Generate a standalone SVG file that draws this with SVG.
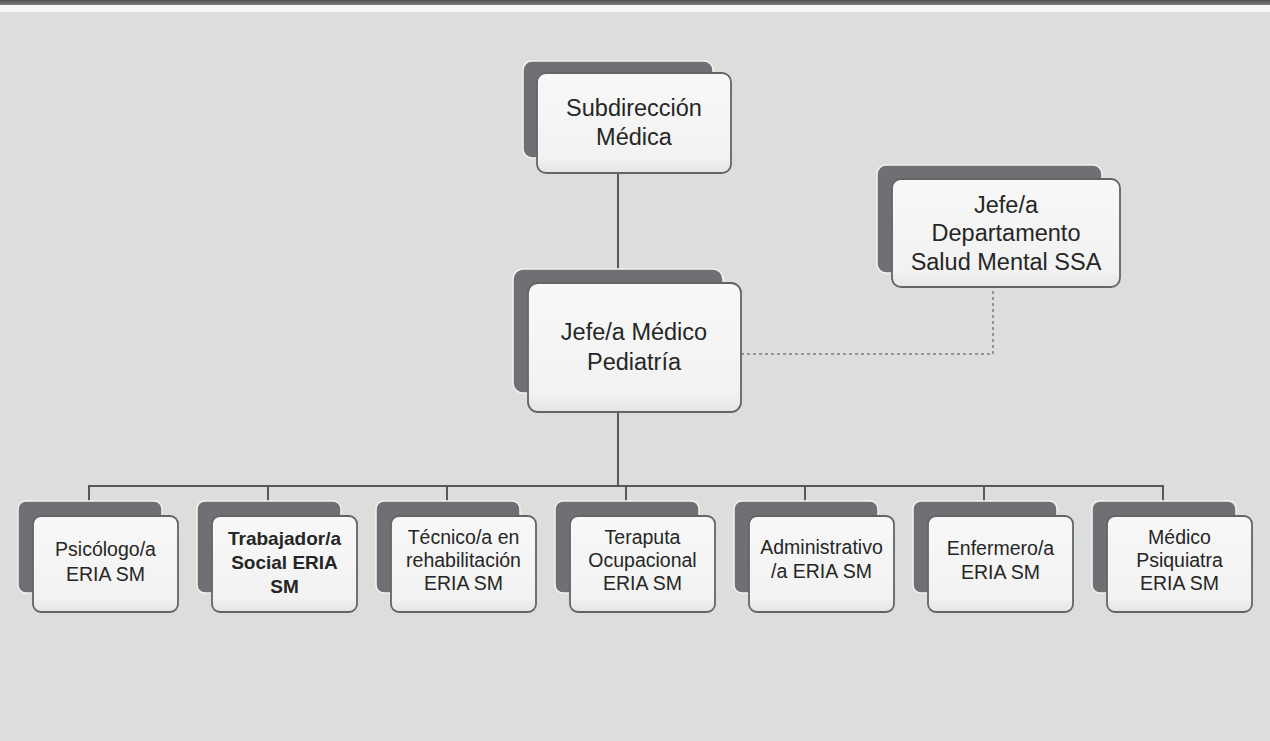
<svg xmlns="http://www.w3.org/2000/svg" width="1270" height="741" viewBox="0 0 1270 741">
  <defs>
    <linearGradient id="topbar" x1="0" y1="0" x2="0" y2="1">
      <stop offset="0" stop-color="#4e5052"/>
      <stop offset="1" stop-color="#7a7c7e"/>
    </linearGradient>
    <linearGradient id="frontfill" x1="0" y1="0" x2="0" y2="1">
      <stop offset="0" stop-color="#f7f8f7"/>
      <stop offset="0.85" stop-color="#f1f2f1"/>
      <stop offset="1" stop-color="#e4e6e4"/>
    </linearGradient>
  </defs>
  <style>
    .back { fill: #6f7073; stroke: #f2f3f2; stroke-width: 1.5; }
    .front { fill: url(#frontfill); stroke: #626466; stroke-width: 1.8; }
    .conn { stroke: #555759; stroke-width: 2; fill: none; }
    .dash { stroke: #7c7e80; stroke-width: 1.5; fill: none; stroke-dasharray: 3 3; }
    .big { font-family: "Liberation Sans", Arial, sans-serif; font-size: 23.5px; fill: #262626; text-anchor: middle; }
    .small { font-family: "Liberation Sans", Arial, sans-serif; font-size: 19.5px; fill: #262626; text-anchor: middle; }
    .bold { font-weight: bold; font-size: 19px; }
  </style>

  <rect x="0" y="0" width="1270" height="741" fill="#dcdedb"/>
  <rect x="0" y="0" width="1270" height="5" fill="url(#topbar)"/>
  <rect x="0" y="5" width="1270" height="7" fill="#f6f7f6"/>

  <g id="connectors">
    <line class="conn" x1="618" y1="173" x2="618" y2="270"/>
    <line class="conn" x1="618" y1="412" x2="618" y2="486"/>
    <polyline class="conn" points="89,501 89,486 1163,486 1163,501"/>
    <line class="conn" x1="268" y1="486" x2="268" y2="501"/>
    <line class="conn" x1="447" y1="486" x2="447" y2="501"/>
    <line class="conn" x1="626" y1="486" x2="626" y2="501"/>
    <line class="conn" x1="805" y1="486" x2="805" y2="501"/>
    <line class="conn" x1="984" y1="486" x2="984" y2="501"/>
    <polyline class="dash" points="741,354 993,354 993,287"/>
  </g>

  <g id="subdireccion">
    <rect class="back" x="523" y="61" width="190" height="97" rx="9"/>
    <rect class="front" x="537" y="73" width="194" height="100" rx="9"/>
    <text class="big" x="634" y="116">Subdirección</text>
    <text class="big" x="634" y="145">Médica</text>
  </g>

  <g id="jefe-pediatria">
    <rect class="back" x="513" y="269" width="210" height="124" rx="10"/>
    <rect class="front" x="528" y="283" width="213" height="129" rx="10"/>
    <text class="big" x="634" y="340">Jefe/a Médico</text>
    <text class="big" x="634" y="370">Pediatría</text>
  </g>

  <g id="jefe-salud-mental">
    <rect class="back" x="877" y="165" width="225" height="108" rx="9"/>
    <rect class="front" x="892" y="179" width="228" height="108" rx="9"/>
    <text class="big" x="1006" y="213">Jefe/a</text>
    <text class="big" x="1006" y="241">Departamento</text>
    <text class="big" x="1006" y="270">Salud Mental SSA</text>
  </g>

  <g id="psicologo">
    <rect class="back" x="18" y="501" width="144" height="92" rx="8"/>
    <rect class="front" x="33" y="516" width="145" height="96" rx="8"/>
    <text class="small" x="105.5" y="556">Psicólogo/a</text>
    <text class="small" x="105.5" y="581">ERIA SM</text>
  </g>

  <g id="trabajador">
    <rect class="back" x="197" y="501" width="144" height="92" rx="8"/>
    <rect class="front" x="212" y="516" width="145" height="96" rx="8"/>
    <text class="small bold" x="284.5" y="545">Trabajador/a</text>
    <text class="small bold" x="284.5" y="569">Social ERIA</text>
    <text class="small bold" x="284.5" y="593">SM</text>
  </g>

  <g id="tecnico">
    <rect class="back" x="376" y="501" width="144" height="92" rx="8"/>
    <rect class="front" x="391" y="516" width="145" height="96" rx="8"/>
    <text class="small" x="463.5" y="544">Técnico/a en</text>
    <text class="small" x="463.5" y="567">rehabilitación</text>
    <text class="small" x="463.5" y="590">ERIA SM</text>
  </g>

  <g id="terapeuta">
    <rect class="back" x="555" y="501" width="144" height="92" rx="8"/>
    <rect class="front" x="570" y="516" width="145" height="96" rx="8"/>
    <text class="small" x="642.5" y="544">Teraputa</text>
    <text class="small" x="642.5" y="567">Ocupacional</text>
    <text class="small" x="642.5" y="590">ERIA SM</text>
  </g>

  <g id="administrativo">
    <rect class="back" x="734" y="501" width="144" height="92" rx="8"/>
    <rect class="front" x="749" y="516" width="145" height="96" rx="8"/>
    <text class="small" x="821.5" y="554">Administrativo</text>
    <text class="small" x="821.5" y="578">/a ERIA SM</text>
  </g>

  <g id="enfermero">
    <rect class="back" x="913" y="501" width="144" height="92" rx="8"/>
    <rect class="front" x="928" y="516" width="145" height="96" rx="8"/>
    <text class="small" x="1000.5" y="555">Enfermero/a</text>
    <text class="small" x="1000.5" y="579">ERIA SM</text>
  </g>

  <g id="psiquiatra">
    <rect class="back" x="1092" y="501" width="144" height="92" rx="8"/>
    <rect class="front" x="1107" y="516" width="145" height="96" rx="8"/>
    <text class="small" x="1179.5" y="544">Médico</text>
    <text class="small" x="1179.5" y="567">Psiquiatra</text>
    <text class="small" x="1179.5" y="590">ERIA SM</text>
  </g>
</svg>
